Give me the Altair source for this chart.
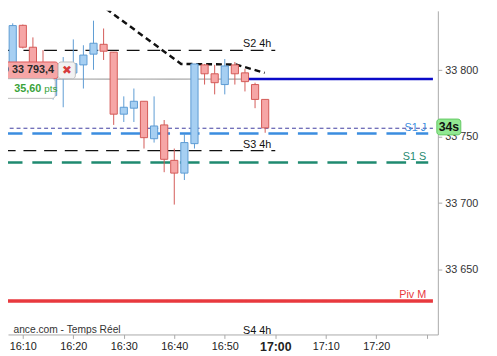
import altair as alt
import pandas as pd

# ---------------- data ----------------
# 2-minute candles, time = minutes after 16:00
minutes = [6, 8, 10, 12, 14, 16, 18, 20, 22, 24, 26, 28, 30, 32, 34, 36, 38, 40, 42, 44, 46, 48, 50, 52, 54, 56, 58]
opens = [33820.0, 33802.0, 33833.9, 33817.4, 33803.0, 33781.0, 33796.0, 33798.0, 33804.1, 33812.2, 33819.6, 33813.7, 33767.0,
         33771.5, 33776.7, 33748.5, 33758.9, 33732.2, 33722.6, 33744.8, 33804.1, 33797.4, 33789.3, 33804.1, 33798.1, 33789.3, 33778.1]
highs = [33822.0, 33835.4, 33834.5, 33824.8, 33815.2, 33799.0, 33810.0, 33823.3, 33818.9, 33837.4, 33831.5, 33813.7, 33780.4,
         33786.3, 33776.7, 33780.4, 33762.6, 33741.1, 33752.2, 33804.8, 33804.8, 33804.1, 33808.5, 33806.3, 33801.1, 33790.7, 33778.1]
lows = [33790.0, 33797.0, 33816.5, 33795.0, 33794.0, 33778.0, 33772.2, 33794.0, 33786.3, 33800.4, 33807.8, 33758.9, 33761.1,
        33761.1, 33741.1, 33745.6, 33723.3, 33698.9, 33717.4, 33741.1, 33789.3, 33781.9, 33781.9, 33789.3, 33784.1, 33771.5, 33753.0]
closes = [33800.0, 33833.7, 33817.4, 33800.0, 33798.0, 33795.0, 33803.0, 33805.0, 33811.5, 33820.4, 33814.4, 33767.0, 33772.2,
          33776.7, 33749.3, 33758.1, 33733.0, 33722.6, 33745.6, 33804.8, 33797.4, 33790.7, 33803.3, 33797.4, 33791.5, 33778.1, 33756.7]

# support / pivot levels
level_names = ["S2 4h", "S3 4h", "S4 4h", "S1 J", "S1 S", "Piv M"]
level_values = [33815.0, 33739.6, 33599.5, 33752.4, 33730.6, 33626.3]
level_end = [60.0, 60.0, 60.0, 90.3, 90.3, 91.23]
level_label_t = [56.4, 56.4, 56.4, 89.9, 89.9, 89.9]

thin_dashed_values = [33850.0, 33756.4]
order_price = 33793.4
order_switch_t = 53.9

trend_t = [24.95, 41.35, 52.2, 57.9]
trend_v = [33850.7, 33804.8, 33804.4, 33798.1]

x_ticks = [10, 20, 30, 40, 50, 60, 70, 80, 90]
y_ticks = [33650, 33700, 33750, 33800, 33850]

X_DOMAIN = [8.04, 91.23]
Y_DOMAIN = [33601.1, 33844.8]

FONT = "Liberation Sans"

# ---------------- frames ----------------
candles = pd.DataFrame({"t": minutes, "o": opens, "h": highs, "l": lows, "c": closes})
candles["dir"] = ["up" if c >= o else "down" for o, c in zip(opens, closes)]

xs = alt.Scale(domain=X_DOMAIN, nice=False, zero=False)
ys = alt.Scale(domain=Y_DOMAIN, nice=False, zero=False)

x_axis = alt.Axis(
    values=x_ticks, orient="bottom", title=None, grid=False,
    labelExpr="datum.value >= 90 ? '' : (16 + floor(datum.value / 60)) + ':' + (datum.value % 60 == 0 ? '00' : '' + (datum.value % 60))",
    labelFontWeight={"condition": {"test": "datum.value == 60", "value": "bold"}, "value": "normal"},
    labelFontSize={"condition": {"test": "datum.value == 60", "value": 12.5}, "value": 11},
    tickSize=4, labelPadding=2, domainColor="#a8a8a8", tickColor="#a8a8a8",
    labelColor="#222222", labelFont=FONT,
)
y_axis = alt.Axis(
    values=y_ticks, orient="right", title=None, grid=False,
    labelExpr="replace(format(datum.value, ','), ',', ' ')",
    tickSize=4, labelPadding=3, domainColor="#a8a8a8", tickColor="#a8a8a8",
    labelColor="#333333", labelFont=FONT, labelFontSize=11,
)


def X(field):
    return alt.X(field, scale=xs, axis=x_axis)


def Y(field):
    return alt.Y(field, scale=ys, axis=y_axis)


col_scale_fill = alt.Scale(domain=["up", "down"], range=["#a6cff2", "#f6a6a6"])
col_scale_stroke = alt.Scale(domain=["up", "down"], range=["#5d9bd3", "#d35a57"])


def hline(value, t0, t1, color, width, dash):
    df = pd.DataFrame({"t0": [t0], "t1": [t1], "v": [value]})
    return alt.Chart(df).mark_rule(color=color, strokeWidth=width, strokeDash=dash, clip=True).encode(
        x=X("t0:Q"), x2="t1", y=Y("v:Q")
    )


layers = []
styles = {
    "S2 4h": ("#111111", 1.3, [13, 8]),
    "S3 4h": ("#111111", 1.3, [13, 8]),
    "S4 4h": ("#111111", 1.3, [13, 8]),
    "S1 J": ("#3b8de0", 2.6, [20, 10]),
    "S1 S": ("#1f8a70", 2.6, [20, 10]),
    "Piv M": ("#e8393e", 3.5, [1, 0]),
}
for name, val, end in zip(level_names, level_values, level_end):
    col, w, d = styles[name]
    layers.append(hline(val, X_DOMAIN[0] - 2, end, col, w, d))
for val in thin_dashed_values:
    layers.append(hline(val, X_DOMAIN[0] - 2, X_DOMAIN[1], "#3d3aa0", 1, [4, 3]))
# order line
layers.append(hline(order_price, X_DOMAIN[0] - 2, order_switch_t, "#8a8a8a", 1, [1, 0]))
layers.append(hline(order_price, order_switch_t, X_DOMAIN[1], "#0a0ac8", 2.5, [1, 0]))

# trend line
trend = pd.DataFrame({"t": trend_t, "v": trend_v})
layers.append(alt.Chart(trend).mark_line(color="#111111", strokeWidth=2.5, strokeDash=[6, 4], clip=True).encode(
    x=X("t:Q"), y=Y("v:Q")))

# candles
base = alt.Chart(candles)
wicks = base.mark_rule(strokeWidth=1, clip=True).encode(
    x=X("t:Q"), y=Y("l:Q"), y2="h",
    color=alt.Color("dir:N", scale=col_scale_stroke, legend=None),
)
bodies = base.mark_bar(size=7.3, strokeWidth=1, clip=True).encode(
    x=X("t:Q"), y=Y("o:Q"), y2="c",
    fill=alt.Fill("dir:N", scale=col_scale_fill, legend=None),
    stroke=alt.Stroke("dir:N", scale=col_scale_stroke, legend=None),
)
layers += [wicks, bodies]

# level labels
lab = pd.DataFrame({"t": level_label_t, "v": level_values, "txt": level_names,
                    "col": [styles[n][0] for n in level_names]})
lab_c = lab[lab["txt"].str.contains("4h")]
lab_r = lab[~lab["txt"].str.contains("4h")]
for df, al in ((lab_c, "center"), (lab_r, "right")):
    layers.append(alt.Chart(df).mark_text(align=al, baseline="alphabetic", dy=-3, font=FONT, fontSize=11).encode(
        x=X("t:Q"), y=Y("v:Q"), text="txt:N", color=alt.Color("col:N", scale=None)))


def box(t0, t1, v0, v1, fill, stroke, clip=True):
    df = pd.DataFrame({"t0": [t0], "t1": [t1], "v0": [v0], "v1": [v1]})
    return alt.Chart(df).mark_rect(fill=fill, stroke=stroke, strokeWidth=1, cornerRadius=3, clip=clip).encode(
        x=X("t0:Q"), x2="t1", y=Y("v0:Q"), y2="v1")


def label(t, v, txt, color, size, weight="normal", align="left", font=FONT, clip=True):
    df = pd.DataFrame({"t": [t], "v": [v], "txt": [txt]})
    return alt.Chart(df).mark_text(align=align, baseline="middle", font=font, fontSize=size,
                                   fontWeight=weight, color=color, clip=clip).encode(
        x=X("t:Q"), y=Y("v:Q"), text="txt:N")


# order annotation boxes
layers.append(box(5.5, 16.99, 33806.3, 33793.7, "#f6a6a6", "#df5b5b"))
layers.append(box(16.99, 20.41, 33806.3, 33793.7, "#f2f2f2", "#bdbdbd"))
layers.append(box(5.5, 16.42, 33793.7, 33778.9, "#ffffff", "#bdbdbd"))
layers.append(label(16.2, 33800.2, "@ 33 793,4", "#2a2a2a", 11, "bold", "right"))
layers.append(label(18.75, 33800.2, "✖", "#d63b3b", 12, "bold", "center", font="DejaVu Sans"))
layers.append(label(8.3, 33786.0, "35,60", "#3aa33a", 11, "bold", "left"))
layers.append(label(14.25, 33785.6, "pts", "#3aa33a", 10, "normal", "left"))

# source text
layers.append(label(8.15, 33604.8, "ance.com - Temps Réel", "#333333", 10.4, "normal", "left"))

# countdown box on the price axis
layers.append(box(92.0, 96.75, 33763.3, 33751.4, "#92e892", "#63c963", clip=False))
layers.append(label(94.4, 33757.2, "34s", "#111111", 12.5, "bold", "center", clip=False))

chart = alt.layer(*layers).properties(
    width=437, height=329,
    autosize=alt.AutoSizeParams(type="none"),
    padding={"left": 0, "top": 0, "right": 52, "bottom": 19},
).configure_view(stroke=None)

chart.save("out.html", embed_options={"renderer": "svg", "actions": False})
